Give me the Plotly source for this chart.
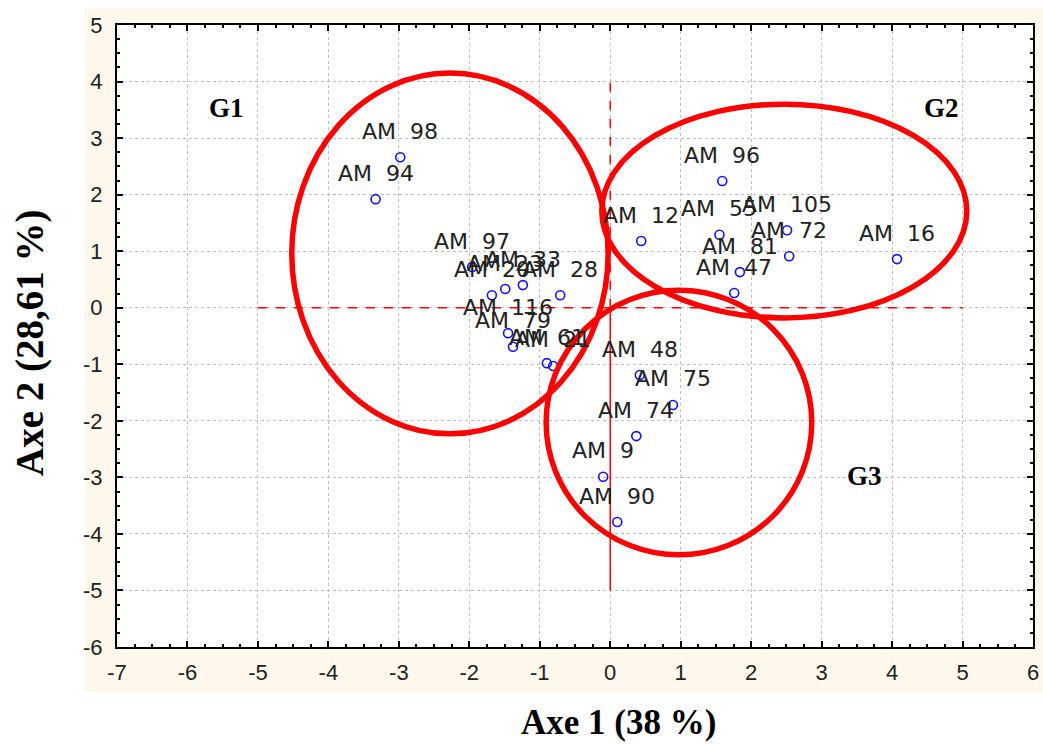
import plotly.graph_objects as go

# ---- data ----
names = ["AM 98", "AM 94", "AM 97", "AM 23", "AM 20", "AM 33", "AM 28", "AM 116",
         "AM 79", "AM 61", "AM 21", "AM 96", "AM 12", "AM 55", "AM 105", "AM 72",
         "AM 81", "AM 47", "AM 16", "AM 48", "AM 75", "AM 74", "AM 9", "AM 90"]
axe1 = [-2.98, -3.33, -1.96, -1.49, -1.68, -1.24, -0.71, -1.45,
        -1.38, -0.90, -0.81, 1.59, 0.44, 1.55, 2.51, 2.54,
        1.84, 1.76, 4.07, 0.42, 0.89, 0.37, -0.10, 0.10]
axe2 = [2.66, 1.92, 0.72, 0.33, 0.22, 0.40, 0.22, -0.45,
        -0.69, -0.98, -1.03, 2.24, 1.18, 1.29, 1.37, 0.91,
        0.63, 0.26, 0.86, -1.19, -1.72, -2.27, -2.99, -3.79]

group_names = ["G1", "G2", "G3"]
group_label_x = [-5.44, 4.70, 3.61]
group_label_y = [3.54, 3.54, -2.97]
# ellipse bounding boxes (x0, x1, y0, y1) in data units
ell_x0 = [-4.52, -0.12, -0.91]
ell_x1 = [-0.03, 5.06, 2.86]
ell_y0 = [-2.23, -0.18, -4.37]
ell_y1 = [4.15, 3.60, 0.31]

x_ticks = list(range(-7, 7))
y_ticks = list(range(-6, 6))

fig = go.Figure()

fig.add_trace(go.Scatter(
    x=axe1, y=axe2, mode="markers",
    marker=dict(symbol="circle-open", size=9, color="#1010FF", line=dict(width=1.6, color="#1010FF")),
    hoverinfo="text", text=names, showlegend=False, cliponaxis=False))

for n, xv, yv in zip(names, axe1, axe2):
    fig.add_annotation(x=xv, y=yv, text=n.replace(" ", "\u00a0\u00a0"), showarrow=False,
                       xanchor="center", yanchor="middle",
                       yshift=26, font=dict(family="DejaVu Sans", size=22, color="#222222"))

for g, gx, gy in zip(group_names, group_label_x, group_label_y):
    fig.add_annotation(x=gx, y=gy, text="<b>%s</b>" % g, showarrow=False,
                       xanchor="center", yanchor="middle",
                       font=dict(family="Liberation Serif", size=27, color="#000000"))

# beige background band behind axes area, white plot area on top of it
fig.add_shape(type="rect", xref="paper", yref="paper", x0=-0.035, x1=1.02, y0=-0.0725, y1=1.027,
              fillcolor="#FDF8EB", line=dict(width=0), layer="below")
fig.add_shape(type="rect", xref="paper", yref="paper", x0=0, x1=1, y0=0, y1=1,
              fillcolor="#FFFFFF", line=dict(width=0), layer="below")

# red reference lines
fig.add_shape(type="line", x0=-5, x1=5, y0=0, y1=0, xref="x", yref="y",
              line=dict(color="#FF0000", width=1.5, dash="dash"))
fig.add_shape(type="line", x0=0, x1=0, y0=0, y1=4, xref="x", yref="y",
              line=dict(color="#FF0000", width=1.5, dash="dash"))
fig.add_shape(type="line", x0=0, x1=0, y0=-5, y1=0, xref="x", yref="y",
              line=dict(color="#FF0000", width=1.5))

for a, b, c, d in zip(ell_x0, ell_x1, ell_y0, ell_y1):
    fig.add_shape(type="circle", x0=a, x1=b, y0=c, y1=d, xref="x", yref="y",
                  line=dict(color="#FF0000", width=5.5))

tickfont = dict(family="Liberation Sans", size=22, color="#222222")
fig.update_xaxes(range=[-7, 6], tickvals=x_ticks, ticktext=[str(v) for v in x_ticks],
                 automargin=False,
                 showgrid=True, gridcolor="#BDBDBD", griddash="dot", gridwidth=1,
                 zeroline=False, showline=True, linecolor="#000000", linewidth=2, mirror="allticks",
                 ticks="inside", ticklen=6, tickcolor="#000000", tickwidth=1.5,
                 minor=dict(dtick=0.25, ticks="inside", ticklen=3, tickcolor="#000000", showgrid=False),
                 tickfont=tickfont, ticklabelstandoff=5)
fig.update_yaxes(range=[-6, 5], tickvals=y_ticks, ticktext=[str(v) for v in y_ticks],
                 automargin=False,
                 showgrid=True, gridcolor="#BDBDBD", griddash="dot", gridwidth=1,
                 zeroline=False, showline=True, linecolor="#000000", linewidth=2, mirror="allticks",
                 ticks="inside", ticklen=6, tickcolor="#000000", tickwidth=1.5,
                 minor=dict(dtick=0.25, ticks="inside", ticklen=3, tickcolor="#000000", showgrid=False),
                 tickfont=tickfont, ticklabelstandoff=8)

fig.add_annotation(xref="paper", yref="paper", x=(618 - 117) / 916, y=(647 - 722) / 622,
                   xanchor="center", yanchor="middle",
                   text="<b>Axe 1 (38 %)</b>", showarrow=False,
                   font=dict(family="Liberation Serif", size=35, color="#000000"))
fig.add_annotation(xref="paper", yref="paper", x=(30 - 117) / 916, y=(647 - 343) / 622,
                   xanchor="center", yanchor="middle",
                   text="<b>Axe 2 (28,61 %)</b>", showarrow=False, textangle=-90,
                   font=dict(family="Liberation Serif", size=39, color="#000000"))

fig.update_layout(width=1043, height=745, margin=dict(l=117, r=10, t=25, b=98, autoexpand=False),
                  plot_bgcolor="#FFFFFF", paper_bgcolor="#FFFFFF", showlegend=False)

# remove the default 8px page margin so the figure fills the window exactly
fig.write_html("out.html", config={"displayModeBar": False},
               post_script="document.body.style.margin='0px';")
